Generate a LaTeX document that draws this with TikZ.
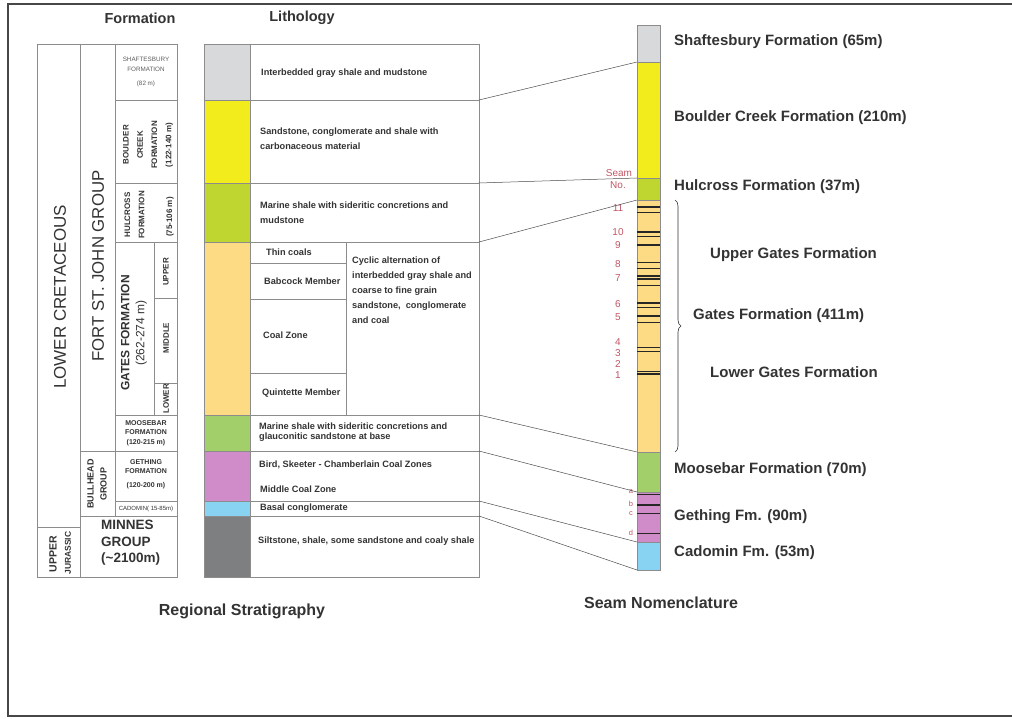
\documentclass[tikz,border=0pt]{standalone}
\usepackage{fontspec}
\setmainfont{Liberation Sans}
\usepackage{tikz}
\usetikzlibrary{positioning,decorations.pathreplacing}

\definecolor{shaftgray}{HTML}{D8D9DA}
\definecolor{boulderyel}{HTML}{F3EC1C}
\definecolor{hulgreen}{HTML}{BFD530}
\definecolor{gatesorange}{HTML}{FDDA84}
\definecolor{moosegreen}{HTML}{A3CF6B}
\definecolor{gethpink}{HTML}{D08CC8}
\definecolor{cadblue}{HTML}{88D3F2}
\definecolor{minnesgray}{HTML}{7E7F80}
\definecolor{seamred}{HTML}{C25565}
\definecolor{tabgray}{HTML}{8C8C8C}
\definecolor{inkgray}{HTML}{333333}

\tikzset{
  tabline/.style={draw=tabgray, line width=0.8pt},
  framel/.style={draw=inkgray!90, line width=2pt},
  head/.style={font=\fontsize{14.5}{16}\selectfont\bfseries, text=inkgray, inner sep=0pt},
  caption/.style={font=\fontsize{16}{18}\selectfont\bfseries, text=inkgray, inner sep=0pt},
  rot/.style={rotate=90, align=center, inner sep=0pt, text=inkgray},
  fmsmall/.style={align=center, inner sep=0pt, text=inkgray, font=\fontsize{7}{9}\selectfont\bfseries},
  lith/.style={anchor=west, align=left, inner sep=0pt, text=inkgray, font=\fontsize{9.2}{15}\selectfont\bfseries},
  rlabel/.style={anchor=west, inner sep=0pt, text=inkgray, font=\fontsize{15}{18}\selectfont\bfseries},
  seamno/.style={inner sep=0pt, text=seamred, font=\fontsize{10}{11}\selectfont},
  corr/.style={draw=black!70, line width=0.5pt},
}

\begin{document}
\begin{tikzpicture}[x=1pt,y=-1pt]
\useasboundingbox (0,0) rectangle (1012,719);
% frame
\draw[framel] (1012,4) -- (8,4) -- (8,716) -- (1012,716);

% headers
\node[head] (fmhead) at (140,18) {Formation};
\node[head] (lithhead) at (302,18) {Lithology};

% lithology colour column
\foreach \t/\b/\c in {44/100/shaftgray, 100/183/boulderyel, 183/242/hulgreen,
    242/415/gatesorange, 415/451/moosegreen, 451/501/gethpink, 501/516/cadblue, 516/577/minnesgray}
  \fill[\c] (204,\t) rectangle (250,\b);

% formation table
\draw[tabline] (37,44) rectangle (177,577);
\draw[tabline] (80,44) -- (80,577) (115,44) -- (115,516) (37,527) -- (80,527);
\foreach \y in {100,183,242,415,501} \draw[tabline] (115,\y) -- (177,\y);
\foreach \y in {451,516} \draw[tabline] (80,\y) -- (177,\y);
\draw[tabline] (154,242) -- (154,415) (154,298) -- (177,298) (154,383) -- (177,383);

% lithology table
\draw[tabline] (204,44) rectangle (479,577);
\draw[tabline] (250,44) -- (250,577) (346,242) -- (346,415);
\foreach \y in {100,183,242,415,451,501,516} \draw[tabline] (204,\y) -- (479,\y);
\foreach \y in {263,299,373} \draw[tabline] (250,\y) -- (346,\y);

% formation names
\node[rot, font=\fontsize{17}{20}\selectfont] (lowcret) at (60,297) {LOWER CRETACEOUS};
\node[rot, font=\fontsize{16.8}{20}\selectfont] (fsj) at (98,266) {FORT ST. JOHN GROUP};
\node[rot, font=\fontsize{9}{13}\selectfont\bfseries] (bullhead) at (97,484) {BULLHEAD\\GROUP};
\node[rot, font=\fontsize{10.5}{12}\selectfont\bfseries] (upper) at (53,554) {UPPER};
\node[rot, font=\fontsize{8.5}{10}\selectfont\bfseries] (jurassic) at (68,553) {JURASSIC};
\node[fmsmall, font=\fontsize{6.3}{10}\selectfont, text=inkgray!80] (shaft) at (146,64) {SHAFTESBURY\\FORMATION};
\node[fmsmall, font=\fontsize{6.3}{10}\selectfont, text=inkgray!80] (shaftm) at (146,84) {(82 m)};
\node[rot, font=\fontsize{8}{14.3}\selectfont\bfseries] (boulder) at (148,145) {BOULDER\\CREEK\\FORMATION\\(122-140 m)};
\node[rot, font=\fontsize{8}{14.3}\selectfont\bfseries] (hulcross) at (134.5,215) {HULCROSS\\FORMATION};
\node[rot, font=\fontsize{8}{10}\selectfont\bfseries] (hulcrossm) at (170,217) {(75-106 m)};
\node[rot, font=\fontsize{12}{15}\selectfont\bfseries] (gates) at (134,333) {GATES FORMATION\\\mdseries(262-274 m)};
\node[rot, font=\fontsize{8}{10}\selectfont\bfseries] (gupper) at (166,272) {UPPER};
\node[rot, font=\fontsize{8}{10}\selectfont\bfseries] (gmiddle) at (166,338) {MIDDLE};
\node[rot, font=\fontsize{8}{10}\selectfont\bfseries] (glower) at (166,399) {LOWER};
\node[fmsmall] (moose) at (146,433) {MOOSEBAR\\FORMATION\\[1pt](120-215 m)};
\node[fmsmall] (gething) at (146,467) {GETHING\\FORMATION};
\node[fmsmall] (gethingm) at (146,486) {(120-200 m)};
\node[fmsmall, font=\fontsize{6}{8}\selectfont] (cadomin) at (146,509) {CADOMIN( 15-85m)};
\node[fmsmall, align=left, anchor=north west, font=\fontsize{13.5}{16.5}\selectfont\bfseries] (minnes) at (101,520) {MINNES\\GROUP\\(\textasciitilde2100m)};

% lithology descriptions
\node[lith] (lshaft) at (261,73) {Interbedded gray shale and mudstone};
\node[lith] (lboulder) at (260,139) {Sandstone, conglomerate and shale with\\ carbonaceous material};
\node[lith] (lhul) at (260,213) {Marine shale with sideritic concretions and\\mudstone};
\node[lith] (lthin) at (266,252) {Thin coals};
\node[lith] (lbab) at (264,281) {Babcock Member};
\node[lith] (lcoal) at (263,335) {Coal Zone};
\node[lith] (lquin) at (262,393) {Quintette Member};
\node[lith, anchor=north west, font=\fontsize{9.2}{15}\selectfont\bfseries] (lcyc) at (352,257)
  {Cyclic alternation of\\ interbedded gray shale and\\ coarse to fine grain\\sandstone,\ \ conglomerate\\and coal};
\node[lith, font=\fontsize{9.2}{9.5}\selectfont\bfseries] (lmoose) at (259,432) {Marine shale with sideritic concretions and\\glauconitic sandstone at base};
\node[lith] (lbird) at (259,465) {Bird, Skeeter - Chamberlain Coal Zones};
\node[lith] (lmid) at (260,489) {Middle Coal Zone};
\node[lith] (lbasal) at (260,508) {Basal conglomerate};
\node[lith] (lsilt) at (258,541) {Siltstone, shale, some sandstone and coaly shale};

% seam column
\foreach \t/\b/\c in {25/62/shaftgray, 62/178/boulderyel, 178/200/hulgreen, 200/452/gatesorange,
    452/492/moosegreen, 492/542/gethpink, 542/570/cadblue}
  \filldraw[draw=tabgray, fill=\c] (637,\t) rectangle (660,\b);
\foreach \y/\w in {207/2.2, 213/1, 232/2.5, 236/0.8, 245/1.8, 262/0.9, 268/0.9, 276/1.8, 279/1.5,
    285/0.9, 303/2.2, 307/0.8, 316/1.6, 322/0.8, 347/0.9, 351/0.9, 371/0.8, 374/1.6,
    494/0.8, 505/2.5, 513/0.8, 533/0.8}
  \draw[line width=\w pt, black!85] (637,\y) -- (660,\y);

% seam numbers
\node[seamno] (seam) at (619,173) {Seam};
\node[seamno] (seamnum) at (618,185) {No.};
\foreach \n/\y in {11/208, 10/232, 9/245, 8/264, 7/278, 6/304, 5/317, 4/342, 3/353, 2/364, 1/375}
  \node[seamno] (no\n) at (618,\y) {\n};
\foreach \n/\y in {a/492, b/504, c/514, d/533}
  \node[seamno, font=\fontsize{7.5}{8}\selectfont] (sl\n) at (631,\y) {\n};

% correlation lines
\foreach \n/\ly/\sy in {a/100/62, b/183/178, c/242/200, d/415/452, e/451/492, f/501/542, g/516/570} {
  \coordinate (lit-\n) at (479,\ly);
  \coordinate (col-\n) at (637,\sy);
  \draw[corr] (lit-\n) -- (col-\n);
}

% gates brace
\draw[inkgray, line width=0.6pt, decorate, decoration={brace, amplitude=6pt}] (675,200) -- (675,452);

% seam labels
\node[rlabel] (rshaft) at (674,42) {Shaftesbury Formation (65m)};
\node[rlabel] (rboulder) at (674,118) {Boulder Creek Formation (210m)};
\node[rlabel] (rhul) at (674,187) {Hulcross Formation (37m)};
\node[rlabel] (rupper) at (710,255) {Upper Gates Formation};
\node[rlabel] (rgates) at (693,316) {Gates Formation (411m)};
\node[rlabel] (rlower) at (710,372) {Lower Gates Formation};
\node[rlabel] (rmoose) at (674,470) {Moosebar Formation (70m)};
\node[rlabel] (rgeth) at (674,517) {Gething Fm. (90m)};
\node[rlabel] (rcad) at (674,553) {Cadomin Fm. (53m)};

% captions
\node[caption] (regional) at (242,611) {Regional Stratigraphy};
\node[caption] (nomen) at (661,603) {Seam Nomenclature};
\end{tikzpicture}
\end{document}
